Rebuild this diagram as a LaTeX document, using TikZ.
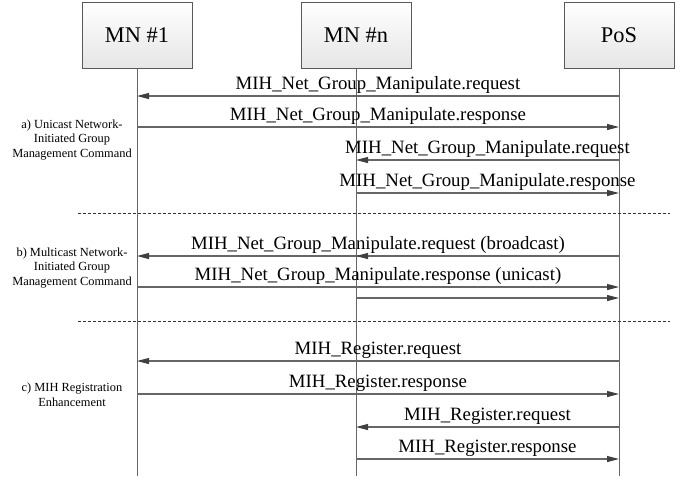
\documentclass[tikz,border=0pt]{standalone}
\usepackage{fontspec}
\setmainfont{Liberation Serif}
\usetikzlibrary{arrows.meta,positioning}

\begin{document}
\begin{tikzpicture}[x=0.5pt,y=-0.5pt,every node/.style={font=\fontsize{9.4}{11}\selectfont},
  entity/.style={draw=black!65,line width=.5pt,top color=white,bottom color=black!10,minimum width=55pt,minimum height=33pt,inner sep=0pt,font=\fontsize{11.2}{13}\selectfont},
  life/.style={draw=black!60,line width=.5pt},
  msg/.style={draw=black!60,line width=.55pt,-{Triangle[length=6pt,width=3pt,color=black!75]}},
  lbl/.style={above,inner sep=.8pt},
  sep/.style={draw=black!80,line width=.4pt,dash pattern=on 1.5pt off 1pt},
  phase/.style={align=center,font=\fontsize{6.2}{7.3}\selectfont}]
\useasboundingbox (0,0) rectangle (686,479);
% entities and life lines
\node[entity] (mn1) at (137,35) {MN \#1};
\node[entity] (mnn) at (356,35) {MN \#n};
\node[entity] (pos) at (619,35) {PoS};
\coordinate (mn1e) at (137,476);
\coordinate (mnne) at (356,476);
\coordinate (pose) at (619,476);
\draw[life] (mn1)--(mn1e);
\draw[life] (mnn)--(mnne);
\draw[life] (pos)--(pose);
% message end points
\coordinate (a1) at (137,96);   \coordinate (c1) at (619,96);
\coordinate (a2) at (137,127);  \coordinate (c2) at (619,127);
\coordinate (b3) at (356,160);  \coordinate (c3) at (619,160);
\coordinate (b4) at (356,193);  \coordinate (c4) at (619,193);
\coordinate (a5) at (137,256);  \coordinate (b5) at (356,256);  \coordinate (c5) at (619,256);
\coordinate (a6) at (137,287);  \coordinate (c6) at (619,287);
\coordinate (b7) at (356,298);  \coordinate (c7) at (619,298);
\coordinate (a8) at (137,361);  \coordinate (c8) at (619,361);
\coordinate (a9) at (137,394);  \coordinate (c9) at (619,394);
\coordinate (b10) at (356,427); \coordinate (c10) at (619,427);
\coordinate (b11) at (356,459); \coordinate (c11) at (619,459);
% a) unicast
\draw[msg] (c1)--node[lbl]{MIH\_Net\_Group\_Manipulate.request}(a1);
\draw[msg] (a2)--node[lbl]{MIH\_Net\_Group\_Manipulate.response}(c2);
\draw[msg] (c3)--node[lbl]{MIH\_Net\_Group\_Manipulate.request}(b3);
\draw[msg] (b4)--node[lbl]{MIH\_Net\_Group\_Manipulate.response}(c4);
% b) multicast
\draw[msg] (c5)--node[lbl]{MIH\_Net\_Group\_Manipulate.request (broadcast)}(a5);
\draw[msg] (c5)--(b5);
\draw[msg] (a6)--node[lbl]{MIH\_Net\_Group\_Manipulate.response (unicast)}(c6);
\draw[msg] (b7)--(c7);
% c) registration
\draw[msg] (c8)--node[lbl]{MIH\_Register.request}(a8);
\draw[msg] (a9)--node[lbl]{MIH\_Register.response}(c9);
\draw[msg] (c10)--node[lbl]{MIH\_Register.request}(b10);
\draw[msg] (b11)--node[lbl]{MIH\_Register.response}(c11);
% separators
\coordinate (s1l) at (78,213);  \coordinate (s1r) at (670,213);
\coordinate (s2l) at (78,321);  \coordinate (s2r) at (670,321);
\draw[sep] (s1l)--(s1r);
\draw[sep] (s2l)--(s2r);
% phase names
\node[phase] (pa) at (72,140) {a) Unicast Network-\\Initiated Group\\Management Command};
\node[phase] (pb) at (72,268) {b) Multicast Network-\\Initiated Group\\Management Command};
\node[phase] (pc) at (72,395) {c) MIH Registration\\Enhancement};
\end{tikzpicture}
\end{document}
